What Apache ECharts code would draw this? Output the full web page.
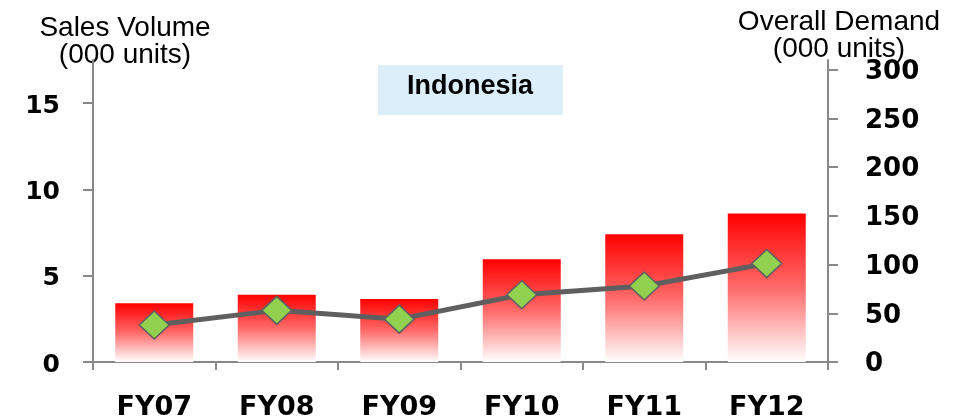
<!DOCTYPE html>
<html>
<head>
<meta charset="utf-8">
<script src="https://cdn.jsdelivr.net/npm/echarts@6/dist/echarts.min.js"></script>
<style>
  html, body { margin: 0; padding: 0; background: #fff; }
  #chart { width: 955px; height: 417px; }
</style>
</head>
<body>
<div id="chart"></div>
<script>
// Fiscal years on the category axis
const categories = ['FY07', 'FY08', 'FY09', 'FY10', 'FY11', 'FY12'];
// Sales volume (000 units), left axis, drawn as bars
const salesVolume = [3.4, 3.9, 3.65, 5.95, 7.4, 8.6];
// Overall demand (000 units), right axis, drawn as a line
const overallDemand = [38, 53, 44, 69, 78, 101];
// Tick labels for both value axes
const leftTicks = [0, 5, 10, 15];
const rightTicks = [0, 50, 100, 150, 200, 250, 300];

const axisGray = '#888888';
const lineGray = '#5f5f5f';
const tickFont = '"DejaVu Sans", Verdana, sans-serif';

const chart = echarts.init(document.getElementById('chart'), null, { renderer: 'canvas' });

chart.setOption({
  animation: false,
  backgroundColor: '#ffffff',
  grid: { left: 93, right: 127, top: 60, bottom: 55, containLabel: false, outerBoundsMode: 'none' },
  graphic: [
    {
      type: 'rect',
      shape: { x: 378, y: 65, width: 185, height: 50 },
      style: { fill: '#ddeefb' },
      silent: true
    },
    {
      type: 'text',
      x: 470, y: 87,
      style: {
        text: 'Indonesia',
        font: 'bold 27px "Liberation Sans", Arial, sans-serif',
        fill: '#000',
        align: 'center',
        verticalAlign: 'middle'
      }
    },
    {
      type: 'text',
      x: 125, y: 15,
      style: {
        text: 'Sales Volume\n(000 units)',
        font: '28px "Liberation Sans", Arial, sans-serif',
        lineHeight: 27,
        fill: '#000',
        align: 'center',
        verticalAlign: 'top'
      }
    },
    {
      type: 'text',
      x: 839, y: 9,
      style: {
        text: 'Overall Demand\n(000 units)',
        font: '28px "Liberation Sans", Arial, sans-serif',
        lineHeight: 27,
        fill: '#000',
        align: 'center',
        verticalAlign: 'top'
      }
    }
  ],
  xAxis: {
    type: 'category',
    data: categories,
    boundaryGap: true,
    axisLine: { lineStyle: { color: axisGray, width: 2 } },
    axisTick: { show: true, length: 8, lineStyle: { color: axisGray, width: 2 } },
    axisLabel: {
      color: '#000',
      fontFamily: tickFont,
      fontWeight: 'bold',
      fontSize: 27,
      margin: 32
    },
    splitLine: { show: false }
  },
  yAxis: [
    {
      type: 'value',
      min: 0,
      max: 17.5,
      position: 'left',
      axisLine: { show: true, lineStyle: { color: axisGray, width: 2 } },
      axisTick: { show: true, length: 10, customValues: leftTicks, lineStyle: { color: axisGray, width: 2 } },
      axisLabel: {
        customValues: leftTicks,
        margin: 33,
        formatter: v => '{v|' + v + '}',
        rich: {
          v: { color: '#000', fontFamily: tickFont, fontWeight: 'bold', fontSize: 25, padding: [6, 0, 0, 0] }
        }
      },
      splitLine: { show: false }
    },
    {
      type: 'value',
      min: 0,
      max: 310,
      position: 'right',
      axisLine: { show: true, lineStyle: { color: axisGray, width: 2 } },
      axisTick: { show: true, length: 10, customValues: rightTicks, lineStyle: { color: axisGray, width: 2 } },
      axisLabel: {
        customValues: rightTicks,
        margin: 37,
        formatter: v => '{v|' + v + '}',
        rich: {
          v: { color: '#000', fontFamily: tickFont, fontWeight: 'bold', fontSize: 26, padding: [5, 0, 0, 0] }
        }
      },
      splitLine: { show: false }
    }
  ],
  series: [
    {
      name: 'Sales Volume',
      type: 'bar',
      yAxisIndex: 0,
      data: salesVolume,
      barWidth: 78,
      itemStyle: {
        color: new echarts.graphic.LinearGradient(0, 0, 0, 1, [
          { offset: 0, color: '#ff0000' },
          { offset: 0.5, color: '#ff6a6a' },
          { offset: 1, color: '#ffffff' }
        ])
      },
      z: 2
    },
    {
      name: 'Overall Demand',
      type: 'line',
      yAxisIndex: 1,
      data: overallDemand,
      symbol: 'diamond',
      symbolSize: [30, 28],
      lineStyle: { color: lineGray, width: 5 },
      itemStyle: { color: '#92d050', borderColor: lineGray, borderWidth: 1.5 },
      z: 5
    }
  ]
});
</script>
</body>
</html>
